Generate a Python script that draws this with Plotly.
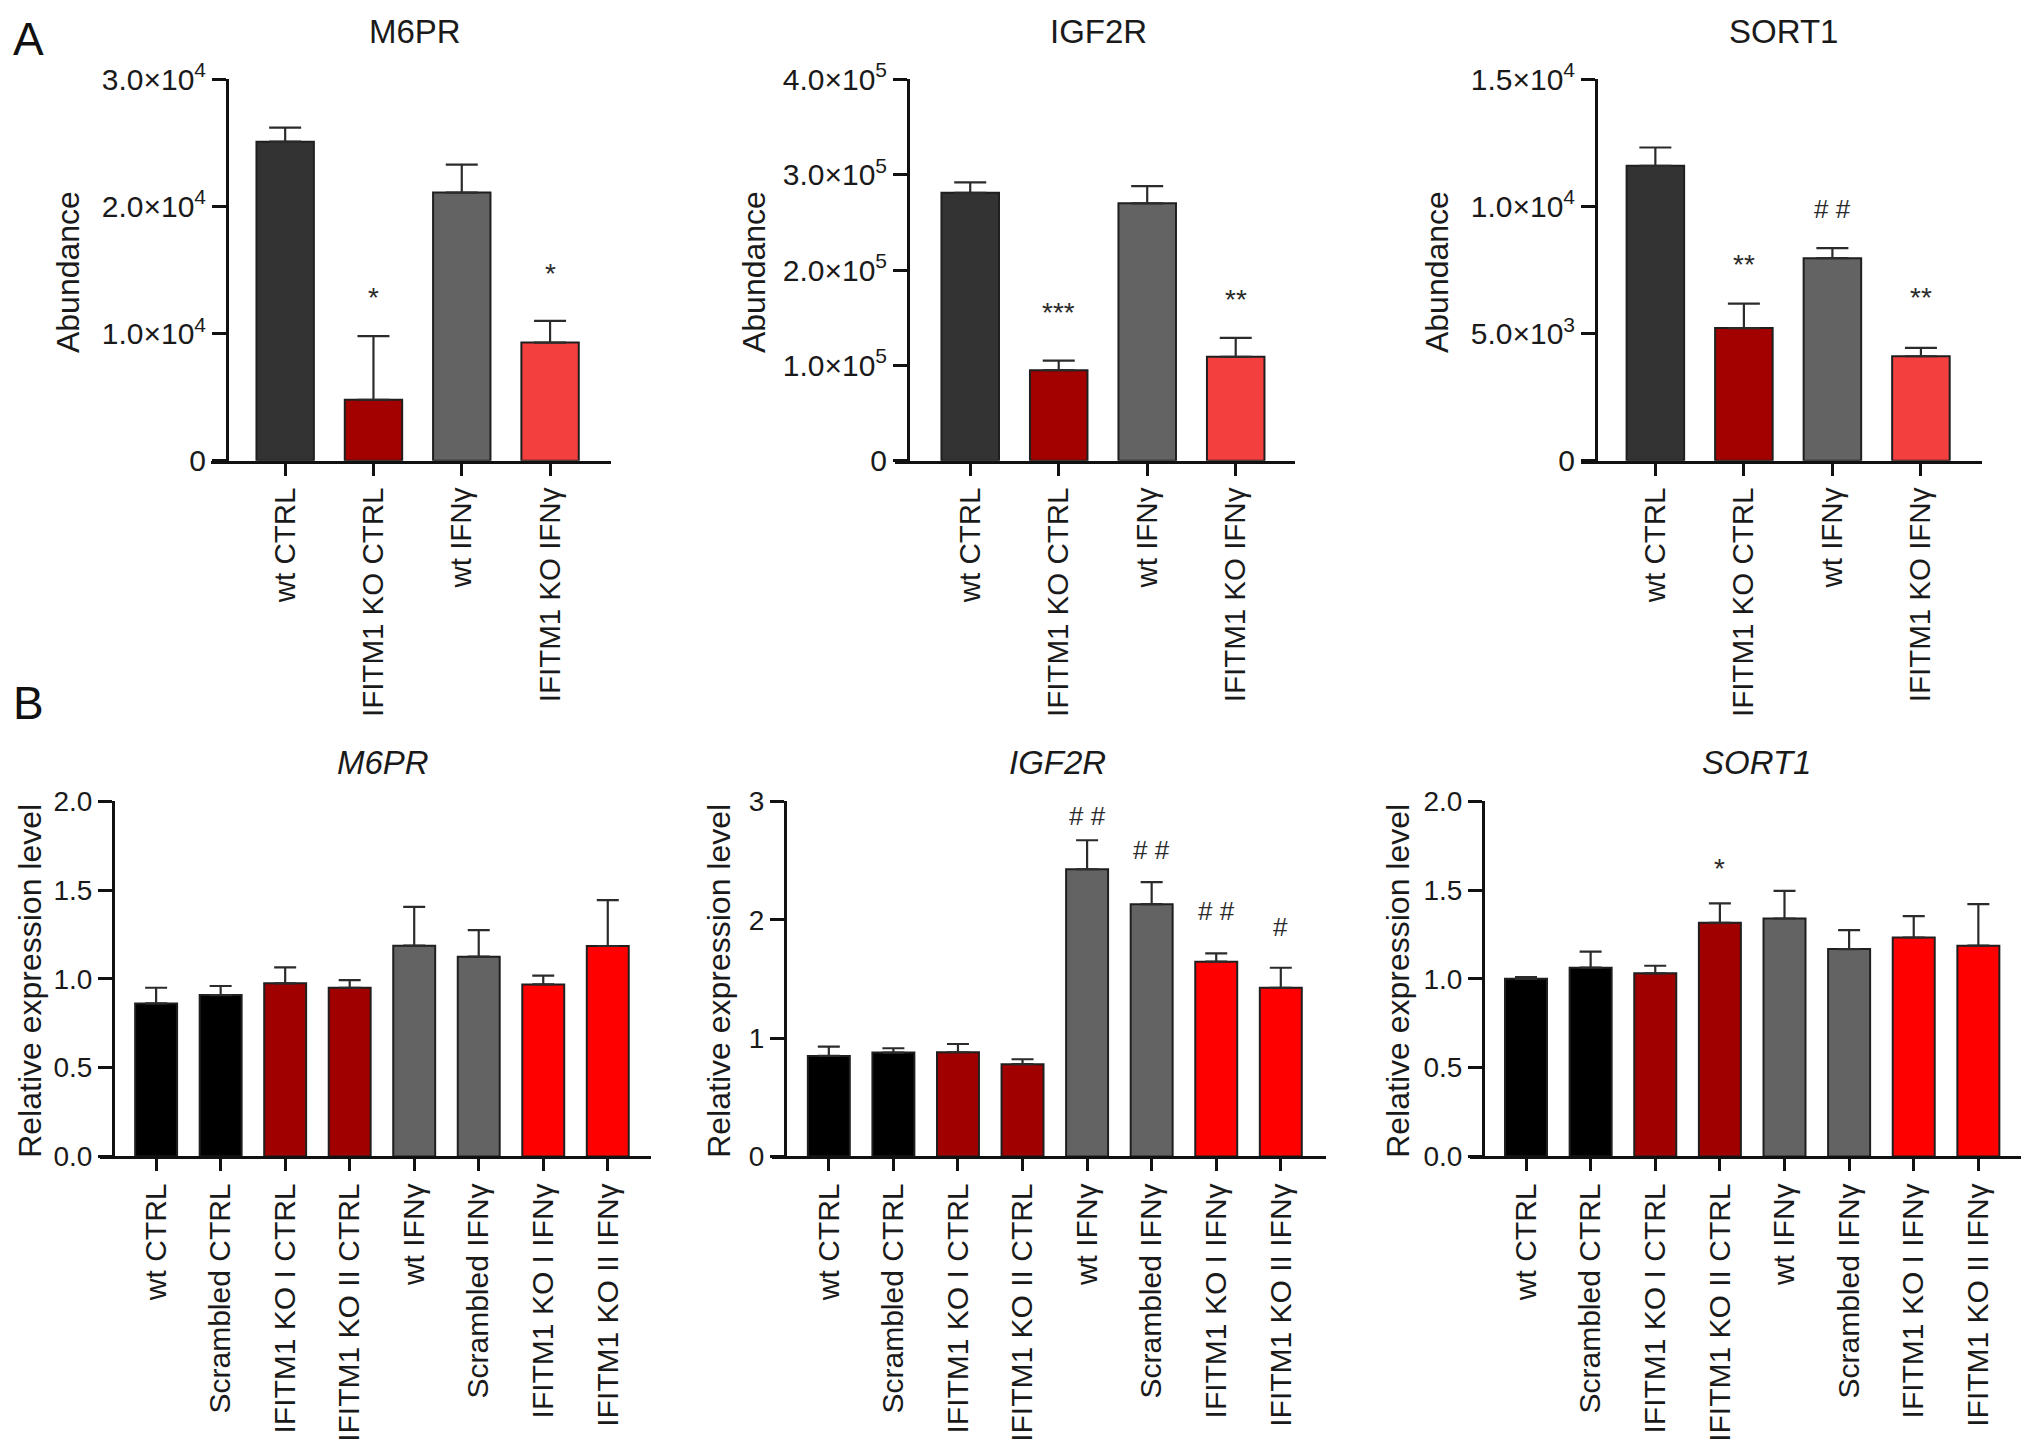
import plotly.graph_objects as go

W, H = 2032, 1442
FONT = "Liberation Sans, Arial, Helvetica, sans-serif"

# ---------------- data ----------------
A_categories = ["wt CTRL", "IFITM1 KO CTRL", "wt IFNγ", "IFITM1 KO IFNγ"]
A_colors = ["#333333", "#a30000", "#636363", "#f43f3f"]

A_m6pr = [25100, 4800, 21100, 9300]
A_m6pr_err = [1100, 5000, 2200, 1700]
A_m6pr_sig = ["", "*", "", "*"]
A_m6pr_sig_y = [None, 13400, None, 15300]

A_igf2r = [281000, 95000, 270000, 109000]
A_igf2r_err = [11000, 10000, 18000, 20000]
A_igf2r_sig = ["", "***", "", "**"]
A_igf2r_sig_y = [None, 163000, None, 177000]

A_sort1 = [11600, 5220, 7970, 4110]
A_sort1_err = [720, 960, 390, 330]
A_sort1_sig = ["", "**", "# #", "**"]
A_sort1_sig_y = [None, 8010, 9908, 6700]

B_categories = ["wt CTRL", "Scrambled CTRL", "IFITM1 KO I CTRL", "IFITM1 KO II CTRL",
                "wt IFNγ", "Scrambled IFNγ", "IFITM1 KO I IFNγ", "IFITM1 KO II IFNγ"]
B_colors = ["#000000", "#000000", "#a00000", "#a00000",
            "#636363", "#636363", "#ff0000", "#ff0000"]

B_m6pr = [0.862, 0.909, 0.975, 0.950, 1.187, 1.125, 0.969, 1.185]
B_m6pr_err = [0.088, 0.051, 0.090, 0.043, 0.219, 0.150, 0.049, 0.258]
B_m6pr_sig = [""] * 8
B_m6pr_sig_y = [None] * 8

B_igf2r = [0.849, 0.877, 0.880, 0.779, 2.426, 2.131, 1.645, 1.425]
B_igf2r_err = [0.079, 0.037, 0.070, 0.042, 0.245, 0.186, 0.070, 0.169]
B_igf2r_sig = ["", "", "", "", "# #", "# #", "# #", "#"]
B_igf2r_sig_y = [None, None, None, None, 2.88, 2.59, 2.07, 1.94]

B_sort1 = [1.000, 1.063, 1.031, 1.316, 1.340, 1.168, 1.233, 1.187]
B_sort1_err = [0.010, 0.090, 0.043, 0.109, 0.156, 0.107, 0.120, 0.234]
B_sort1_sig = ["", "", "", "*", "", "", "", ""]
B_sort1_sig_y = [None, None, None, 1.66, None, None, None, None]

A_ticks_m6pr = [0, 1e4, 2e4, 3e4]
A_ticktext_m6pr = ["0", "1.0×10<sup>4</sup>", "2.0×10<sup>4</sup>", "3.0×10<sup>4</sup>"]
A_ticks_igf2r = [0, 1e5, 2e5, 3e5, 4e5]
A_ticktext_igf2r = ["0", "1.0×10<sup>5</sup>", "2.0×10<sup>5</sup>", "3.0×10<sup>5</sup>", "4.0×10<sup>5</sup>"]
A_ticks_sort1 = [0, 5e3, 1e4, 1.5e4]
A_ticktext_sort1 = ["0", "5.0×10<sup>3</sup>", "1.0×10<sup>4</sup>", "1.5×10<sup>4</sup>"]
B_ticks_half = [0, 0.5, 1.0, 1.5, 2.0]
B_ticktext_half = ["0.0", "0.5", "1.0", "1.5", "2.0"]
B_ticks_int = [0, 1, 2, 3]
B_ticktext_int = ["0", "1", "2", "3"]

# ---------------- panel geometry (pixels) ----------------
A_top, A_bot, A_title_y, A_label_y = 60, 452, 11, 19
B_top, B_bot, B_title_y, B_label_y = 802, 1167, 762, 701

panels = [
    dict(title="M6PR", italic=False, cats=A_categories, colors=A_colors, vals=A_m6pr, errs=A_m6pr_err,
         sig=A_m6pr_sig, sig_y=A_m6pr_sig_y, x0=211, x1=611, xr=[-0.84, 3.69], ypos=227,
         ytop=A_top, ybot=A_bot, ymax=3e4, tv=A_ticks_m6pr, tt=A_ticktext_m6pr,
         ytitle="Abundance", ytx=68, tx=415, ty=A_title_y, cap=16, xfs=29.5, yfs=30),
    dict(title="IGF2R", italic=False, cats=A_categories, colors=A_colors, vals=A_igf2r, errs=A_igf2r_err,
         sig=A_igf2r_sig, sig_y=A_igf2r_sig_y, x0=895, x1=1295, xr=[-0.85, 3.67], ypos=908,
         ytop=A_top, ybot=A_bot, ymax=4e5, tv=A_ticks_igf2r, tt=A_ticktext_igf2r,
         ytitle="Abundance", ytx=754, tx=1098, ty=A_title_y, cap=16, xfs=29.5, yfs=30),
    dict(title="SORT1", italic=False, cats=A_categories, colors=A_colors, vals=A_sort1, errs=A_sort1_err,
         sig=A_sort1_sig, sig_y=A_sort1_sig_y, x0=1581, x1=1982, xr=[-0.84, 3.69], ypos=1596,
         ytop=A_top, ybot=A_bot, ymax=1.5e4, tv=A_ticks_sort1, tt=A_ticktext_sort1,
         ytitle="Abundance", ytx=1437, tx=1783, ty=A_title_y, cap=16, xfs=29.5, yfs=30),
    dict(title="M6PR", italic=True, cats=B_categories, colors=B_colors, vals=B_m6pr, errs=B_m6pr_err,
         sig=B_m6pr_sig, sig_y=B_m6pr_sig_y, x0=100, x1=651, xr=[-0.87, 7.67], ypos=113,
         ytop=B_top, ybot=B_bot, ymax=2.0, tv=B_ticks_half, tt=B_ticktext_half,
         ytitle="Relative expression level", ytx=30, tx=383, ty=B_title_y, cap=11, xfs=30, yfs=28),
    dict(title="IGF2R", italic=True, cats=B_categories, colors=B_colors, vals=B_igf2r, errs=B_igf2r_err,
         sig=B_igf2r_sig, sig_y=B_igf2r_sig_y, x0=772, x1=1326, xr=[-0.88, 7.70], ypos=785,
         ytop=B_top, ybot=B_bot, ymax=3.0, tv=B_ticks_int, tt=B_ticktext_int,
         ytitle="Relative expression level", ytx=719, tx=1057, ty=B_title_y, cap=11, xfs=30, yfs=28),
    dict(title="SORT1", italic=True, cats=B_categories, colors=B_colors, vals=B_sort1, errs=B_sort1_err,
         sig=B_sort1_sig, sig_y=B_sort1_sig_y, x0=1470, x1=2021, xr=[-0.867, 7.66], ypos=1483,
         ytop=B_top, ybot=B_bot, ymax=2.0, tv=B_ticks_half, tt=B_ticktext_half,
         ytitle="Relative expression level", ytx=1398, tx=1756, ty=B_title_y, cap=11, xfs=30, yfs=28),
]

fig = go.Figure()
layout = dict(width=W, height=H, margin=dict(l=0, r=0, t=0, b=0), autosize=False,
              paper_bgcolor="white", plot_bgcolor="white", showlegend=False,
              font=dict(family=FONT, color="#1a1a1a"))
annotations = []

for i, p in enumerate(panels, start=1):
    xa = "x" if i == 1 else f"x{i}"
    ya = "y" if i == 1 else f"y{i}"
    fig.add_trace(go.Bar(
        x=p["cats"], y=p["vals"], xaxis=xa, yaxis=ya, width=0.65,
        marker=dict(color=p["colors"], line=dict(color="#1f1f1f", width=2)),
        error_y=dict(type="data", symmetric=False, array=p["errs"],
                     arrayminus=[0] * len(p["errs"]), color="#2b2b2b",
                     thickness=2.2, width=p["cap"]),
        hoverinfo="skip",
    ))
    layout["xaxis" if i == 1 else f"xaxis{i}"] = dict(
        domain=[p["x0"] / W, p["x1"] / W], range=p["xr"], anchor=ya,
        type="category", categoryorder="array", categoryarray=p["cats"],
        showline=True, linecolor="#111111", linewidth=3,
        ticks="outside", ticklen=12, tickwidth=3, tickcolor="#111111",
        tickangle=-90, tickfont=dict(family=FONT, size=p["xfs"], color="#1a1a1a"),
        showgrid=False, zeroline=False, fixedrange=True,
    )
    layout["yaxis" if i == 1 else f"yaxis{i}"] = dict(
        domain=[1 - p["ybot"] / H, 1 - p["ytop"] / H], range=[0, p["ymax"]],
        anchor="free", position=p["ypos"] / W,
        showline=True, linecolor="#111111", linewidth=3,
        ticks="outside", ticklen=14, tickwidth=3, tickcolor="#111111",
        tickvals=p["tv"], ticktext=p["tt"],
        tickfont=dict(family=FONT, size=p["yfs"], color="#1a1a1a"),
        showgrid=False, zeroline=False, fixedrange=True,
    )
    title_txt = f"<i>{p['title']}</i>" if p["italic"] else p["title"]
    annotations.append(dict(text=title_txt, xref="paper", yref="paper",
                            x=p["tx"] / W, y=1 - p["ty"] / H, showarrow=False,
                            xanchor="center", yanchor="middle",
                            font=dict(family=FONT, size=33, color="#1a1a1a")))
    annotations.append(dict(text=p["ytitle"], xref="paper", yref="paper",
                            x=p["ytx"] / W, y=1 - ((p["ytop"] + p["ybot"]) / 2 + 2) / H,
                            showarrow=False, textangle=-90,
                            xanchor="center", yanchor="middle",
                            font=dict(family=FONT, size=32, color="#1a1a1a")))
    for c, s, sy in zip(p["cats"], p["sig"], p["sig_y"]):
        if s:
            is_star = "*" in s
            annotations.append(dict(text=s, xref=xa, yref=ya, x=c, y=sy, showarrow=False,
                                    xanchor="center", yanchor="middle",
                                    yshift=-7 if is_star else 0,
                                    font=dict(family=FONT, size=28 if is_star else 26,
                                              color="#2b2b2b")))

annotations.append(dict(text="A", xref="paper", yref="paper", x=28 / W, y=1 - A_label_y / H,
                        showarrow=False, xanchor="center", yanchor="middle",
                        font=dict(family=FONT, size=46, color="#111111")))
annotations.append(dict(text="B", xref="paper", yref="paper", x=28 / W, y=1 - B_label_y / H,
                        showarrow=False, xanchor="center", yanchor="middle",
                        font=dict(family=FONT, size=46, color="#111111")))
layout["annotations"] = annotations
fig.update_layout(**layout)

fig.write_html("out.html", config={"displayModeBar": False},
               post_script="document.body.style.margin='0';")
